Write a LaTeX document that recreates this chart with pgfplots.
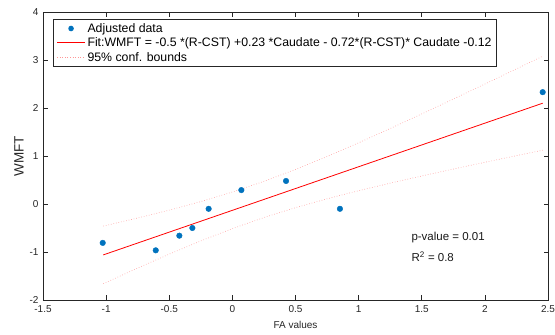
\documentclass[border=0pt]{standalone}
\usepackage{fontspec}
\setmainfont{Liberation Sans}
\usepackage{pgfplots}
\pgfplotsset{compat=1.18}
\definecolor{mblue}{RGB}{0,114,189}
\definecolor{axgray}{RGB}{38,38,38}
\definecolor{confred}{RGB}{255,150,150}
\definecolor{fitred}{RGB}{255,0,0}
\begin{document}
\begin{tikzpicture}[x=1pt,y=1pt]
\useasboundingbox (0,0) rectangle (555,335);
\begin{axis}[
  at={(43pt,35pt)}, anchor=south west,
  width=505pt, height=288pt, scale only axis,
  xmin=-1.5, xmax=2.5, ymin=-2, ymax=4,
  xtick={-1.5,-1,-0.5,0,0.5,1,1.5,2,2.5},
  ytick={-2,-1,0,1,2,3,4},
  tick align=inside, major tick length=4.5pt,
  axis line style={axgray, line width=0.6pt},
  tick style={axgray, line width=0.6pt},
  ticklabel style={font=\fontsize{10}{12}\selectfont, text=axgray},
  xticklabel style={yshift=-2pt},
  yticklabel style={xshift=-1pt},
  /pgf/number format/assume math mode=true,
  xlabel={FA values}, ylabel={WMFT},
  xlabel style={font=\fontsize{10}{12}\selectfont, text=axgray, at={(axis description cs:0.5,-0.087)}, anchor=center},
  ylabel style={font=\fontsize{13.5}{15}\selectfont, text=axgray, at={(axis description cs:-0.0475,0.5)}, anchor=center},
  legend cell align=left,
  legend style={at={(0.0204,0.9757)}, anchor=north west, draw=axgray, line width=0.6pt,
    font=\fontsize{12.3}{14}\selectfont, row sep=0pt},
]
\addlegendimage{legend image code/.code={\path[draw=none] (0pt,0pt) -- (28pt,0pt); \path[draw=none, fill=mblue] (14pt,0pt) circle (2.8pt);}}
\addlegendentry{Adjusted data}
\addlegendimage{legend image code/.code={\path[color=fitred, draw=fitred, line width=0.9pt] (0pt,0pt) -- (28pt,0pt);}}
\addlegendentry{Fit:WMFT = -0.5 *(R-CST) +0.23 *Caudate - 0.72*(R-CST)* Caudate -0.12}
\addlegendimage{legend image code/.code={\path[color=confred, draw=confred, dotted, line width=0.6pt] (0pt,0pt) -- (28pt,0pt);}}
\addlegendentry{95\% conf. bounds}
\addplot[only marks, mark=*, mark size=2.8pt, color=mblue, mark options={draw=mblue, fill=mblue}, forget plot]
  coordinates {
  (-1.027,-0.81) (-0.607,-0.965) (-0.42,-0.66) (-0.317,-0.50) (-0.188,-0.10)
  (0.071,0.29) (0.425,0.48) (0.852,-0.10) (2.458,2.33)
  };
\addplot[fitred, line width=0.8pt, forget plot]
  coordinates {(-1.022,-1.060) (2.458,2.100)};
\addplot[confred, dotted, line width=0.6pt, forget plot]
  coordinates {
  (-1.022,-0.460) (-0.75,-0.292) (-0.5,-0.128) (-0.25,0.051) (0,0.249)
  (0.25,0.472) (0.5,0.720) (0.75,0.989) (1.0,1.275) (1.25,1.572)
  (1.5,1.877) (1.75,2.186) (2.0,2.499) (2.25,2.815) (2.458,3.079)
  };
\addplot[confred, dotted, line width=0.6pt, forget plot]
  coordinates {
  (-1.022,-1.660) (-0.75,-1.334) (-0.5,-1.044) (-0.25,-0.769) (0,-0.513)
  (0.25,-0.282) (0.5,-0.076) (0.75,0.109) (1.0,0.277) (1.25,0.434)
  (1.5,0.584) (1.75,0.728) (2.0,0.869) (2.25,1.007) (2.458,1.121)
  };
\node[anchor=west, font=\fontsize{11.5}{13}\selectfont, text=black!90] at (axis cs:1.391,-0.708) {p-value = 0.01};
\node[anchor=west, font=\fontsize{11.5}{13}\selectfont, text=black!90] at (axis cs:1.391,-1.10) {R\textsuperscript{2} = 0.8};
\end{axis}
\end{tikzpicture}
\end{document}
